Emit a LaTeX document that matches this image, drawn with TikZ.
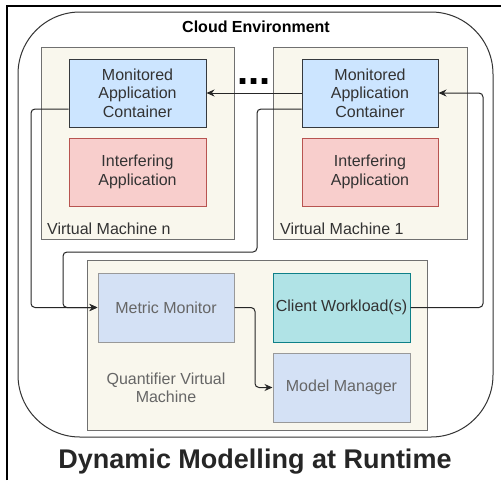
\documentclass[tikz,border=0pt]{standalone}
\usepackage{fontspec}
\setmainfont{Liberation Sans}
\usepackage{tikz}
\usetikzlibrary{calc,arrows.meta}
\definecolor{ink}{HTML}{333333}
\definecolor{soft}{HTML}{666666}
\definecolor{vmfill}{HTML}{F9F7ED}
\definecolor{vmline}{HTML}{707070}
\definecolor{macfill}{HTML}{CCE5FF}
\definecolor{macline}{HTML}{36393D}
\definecolor{intfill}{HTML}{F8CECC}
\definecolor{intline}{HTML}{B85450}
\definecolor{qfill}{HTML}{D4E1F5}
\definecolor{qline}{HTML}{999999}
\definecolor{cwfill}{HTML}{B0E3E6}
\definecolor{cwline}{HTML}{0E8088}
\tikzset{
  box/.style={draw, line width=1pt, minimum width=137pt, minimum height=68pt,
    align=center, text=ink, font=\fontsize{16}{18.5}\selectfont, inner sep=0pt},
  vm/.style={draw=vmline, fill=vmfill, line width=1pt, inner sep=0pt},
  mac/.style={box, draw=macline, fill=macfill},
  intf/.style={box, draw=intline, fill=intfill},
  quant/.style={box, draw=qline, fill=qfill, text=soft},
  cw/.style={box, draw=cwline, fill=cwfill},
  conn/.style={draw=black!85, line width=1pt, rounded corners=4pt},
  arr/.style={conn, -{Stealth[length=8pt,width=7pt]}},
  lbl/.style={text=ink, font=\fontsize{16}{18.5}\selectfont, inner sep=0pt}
}
\begin{document}
\begin{tikzpicture}[x=1pt,y=-1pt]
  \useasboundingbox (0,0) rectangle (501,480);
  \fill[white] (0,0) rectangle (501,480);
  % outer frame and cloud
  \draw[black, line width=1.2pt] (7,480) -- (7,6) -- (501,6);
  \draw[ink, line width=1pt, rounded corners=62pt] (18,12) rectangle (493,437);
  \node[font=\fontsize{16}{18}\selectfont\bfseries] (cloud) at (256,27) {Cloud Environment};

  % virtual machines
  \node[vm, minimum width=193pt, minimum height=192pt] (vmn) at (137.5,143) {};
  \node[vm, minimum width=194pt, minimum height=192pt] (vmo) at (370,143) {};
  \node[lbl, anchor=west] (vmnlbl) at (47,229) {Virtual Machine n};
  \node[lbl, anchor=west] (vmolbl) at (280,229) {Virtual Machine 1};

  \node[mac] (macn) at (137.5,93) {Monitored\\Application\\Container};
  \node[intf] (intn) at (137.5,172) {Interfering\\Application};
  \node[mac, minimum width=136pt] (maco) at (370,93) {Monitored\\Application\\Container};
  \node[intf, minimum width=136pt] (into) at (370,172) {Interfering\\Application};

  \node[font=\fontsize{40}{40}\selectfont\bfseries, anchor=base, inner sep=0pt] (dots) at (254,84) {...};

  % quantifier
  \node[vm, minimum width=340pt, minimum height=170pt] (qvm) at (257,345) {};
  \node[quant, minimum width=136pt, minimum height=69pt] (metric) at (166,307.5) {Metric Monitor};
  \node[cw, minimum height=69pt] (client) at (341.5,307.5) {Client Workload(s)};
  \node[quant, minimum height=69pt] (model) at (341.5,387.5) {Model Manager};
  \node[lbl, align=center, text=soft] (qlbl) at (166,388) {Quantifier Virtual\\Machine};

  % connectors
  \coordinate (rbend) at (483,93);
  \coordinate (lbend) at (31,109);
  \coordinate (mbend) at (257,252);
  \coordinate (mmid) at (63,252);
  \coordinate (qbend) at (255,307.5);

  \draw[arr] (maco.west) -- (macn.east);
  \draw[arr] (client.east) -| (rbend) -- (maco.east);
  \draw[arr] ([yshift=-16pt]macn.west) -- (lbend) |- (metric.west);
  \draw[arr] ([yshift=-16pt]maco.west) -| (mbend) -- (mmid) |- (metric.west);
  \draw[arr] (metric.east) -- (qbend) |- (model.west);

  \node[font=\fontsize{27}{30}\selectfont\bfseries, text=black!85] (title) at (255,462) {Dynamic Modelling at Runtime};
\end{tikzpicture}
\end{document}
